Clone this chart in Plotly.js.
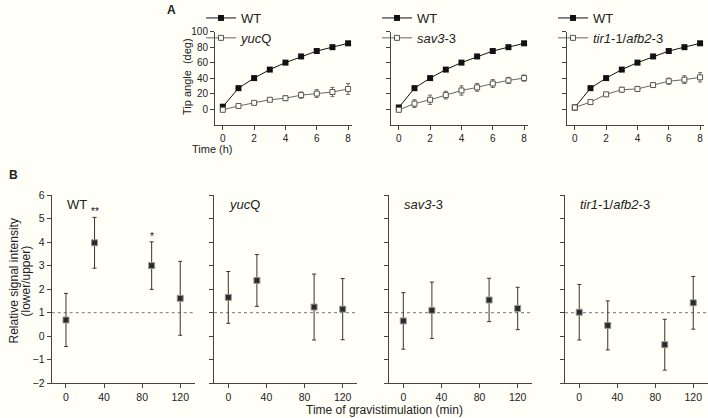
<!DOCTYPE html>
<html>
<head>
<meta charset="utf-8">
<script src="https://cdn.plot.ly/plotly-3.0.1.min.js"></script>
<style>html,body{margin:0;padding:0;background:#fffff8;}#chart{width:708px;height:418px;}</style>
</head>
<body>
<div id="chart"></div>
<script>
// ---------- DATA ----------
const hours = [0, 1, 2, 3, 4, 5, 6, 7, 8];
const hourTicks = [0, 2, 4, 6, 8];
const angleTicks = [0, 20, 40, 60, 80, 100];

const wtA1 = [3, 27, 40, 51, 60, 68, 75, 80, 85];
const yucA = [-1, 4, 8, 12, 14, 18, 20, 22, 26];
const yucAErr = [1, 1, 1, 2, 3, 4, 5, 6, 7];

const wtA2 = [2, 27, 40, 51, 60, 68, 75, 80, 85];
const savA = [-1, 7, 12, 18, 24, 28, 33, 37, 40];
const savAErr = [2, 5, 6, 5, 6, 5, 5, 4, 4];

const wtA3 = [2, 27, 40, 51, 60, 68, 75, 80, 85];
const tirA = [2, 9, 19, 25, 26, 31, 36, 38, 41];
const tirAErr = [1, 2, 2, 3, 3, 3, 4, 5, 6];

const minutes = [0, 30, 90, 120];
const minuteTicks = [0, 40, 80, 120];
const ratioTicks = [-2, -1, 0, 1, 2, 3, 4, 5, 6];

const wtB = [0.69, 3.97, 3.0, 1.61];
const wtBErr = [1.13, 1.08, 1.01, 1.57];
const wtBStars = ["", "**", "*", ""];
const yucB = [1.65, 2.37, 1.24, 1.15];
const yucBErr = [1.1, 1.1, 1.4, 1.3];
const savB = [0.65, 1.1, 1.54, 1.18];
const savBErr = [1.2, 1.2, 0.92, 0.9];
const tirB = [1.02, 0.46, -0.36, 1.42];
const tirBErr = [1.18, 1.04, 1.08, 1.12];
const baseline = 1;

// ---------- LAYOUT HELPERS ----------
const W = 708, H = 418;
const px = v => v / W;
const py = v => 1 - v / H;
const xd = (a, b) => [a / W, b / W];
const yd = (top, bottom) => [1 - bottom / H, 1 - top / H];
const FONT = 'Liberation Sans, Arial, sans-serif';
const AX = '#444';
const TXT = '#222';

function axis(extra) {
  return Object.assign({
    showline: true, linecolor: AX, linewidth: 1,
    ticks: 'outside', ticklen: 4, tickwidth: 1, tickcolor: AX,
    showgrid: false, zeroline: false, fixedrange: true,
    tickfont: {size: 10, color: TXT, family: FONT}
  }, extra);
}

const traces = [];
function panelA(n, wt, mut, mutErr, mutName, legendName) {
  const xa = n === 1 ? 'x' : 'x' + n;
  const ya = n === 1 ? 'y' : 'y' + n;
  traces.push({
    x: hours, y: wt, type: 'scatter', mode: 'lines+markers', name: 'WT',
    xaxis: xa, yaxis: ya, legend: legendName, cliponaxis: false,
    line: {color: '#111', width: 1},
    marker: {symbol: 'square', size: 6, color: '#111'}
  });
  traces.push({
    x: hours, y: mut, type: 'scatter', mode: 'lines+markers', name: mutName,
    xaxis: xa, yaxis: ya, legend: legendName, cliponaxis: false,
    line: {color: '#666', width: 1},
    marker: {symbol: 'square', size: 5, color: '#fffff8', line: {color: '#555', width: 1}},
    error_y: {type: 'data', array: mutErr, visible: true, color: '#666', thickness: 1, width: 2}
  });
}
panelA(1, wtA1, yucA, yucAErr, '<i>yuc</i>Q', 'legend');
panelA(2, wtA2, savA, savAErr, '<i>sav3</i>-3', 'legend2');
panelA(3, wtA3, tirA, tirAErr, '<i>tir1</i>-1/<i>afb2</i>-3', 'legend3');

function panelB(n, vals, errs) {
  traces.push({
    x: minutes, y: vals, type: 'scatter', mode: 'markers', showlegend: false,
    xaxis: 'x' + n, yaxis: 'y' + n, cliponaxis: false,
    marker: {symbol: 'square', size: 6, color: '#2a2a2a', line: {color: '#999', width: 1}},
    error_y: {type: 'data', array: errs, visible: true, color: '#333', thickness: 1, width: 2}
  });
}
panelB(4, wtB, wtBErr);
panelB(5, yucB, yucBErr);
panelB(6, savB, savBErr);
panelB(7, tirB, tirBErr);

const yA = yd(31.7, 124.5);
const yB = yd(195, 383.3);
const legendBase = {xanchor: 'left', yanchor: 'top', bgcolor: 'rgba(0,0,0,0)', font: {size: 13, family: FONT, color: TXT}, tracegroupgap: 0, itemwidth: 30};
const layout = {
  width: W, height: H,
  margin: {l: 0, r: 0, t: 0, b: 0},
  paper_bgcolor: '#fffff8', plot_bgcolor: 'rgba(0,0,0,0)',
  font: {family: FONT, color: TXT},
  showlegend: true,
  xaxis:  axis({domain: xd(215, 352), range: [-0.5, 8.25], tickvals: hourTicks, anchor: 'y'}),
  yaxis:  axis({domain: yA, range: [-20, 100], tickvals: angleTicks, anchor: 'x'}),
  xaxis2: axis({domain: xd(391, 528), range: [-0.5, 8.25], tickvals: hourTicks, anchor: 'y2'}),
  yaxis2: axis({domain: yA, range: [-20, 100], tickvals: angleTicks, showticklabels: false, anchor: 'x2'}),
  xaxis3: axis({domain: xd(567, 704), range: [-0.5, 8.25], tickvals: hourTicks, anchor: 'y3'}),
  yaxis3: axis({domain: yA, range: [-20, 100], tickvals: angleTicks, showticklabels: false, anchor: 'x3'}),
  xaxis4: axis({domain: xd(51.7, 194.5), range: [-15, 135], tickvals: minuteTicks, anchor: 'y4', tickfont: {size: 10.5, color: TXT, family: FONT}}),
  yaxis4: axis({domain: yB, range: [-2, 6], tickvals: ratioTicks, anchor: 'x4', tickfont: {size: 10.5, color: TXT, family: FONT}}),
  xaxis5: axis({domain: xd(214, 357), range: [-15, 135], tickvals: minuteTicks, anchor: 'y5', tickfont: {size: 10.5, color: TXT, family: FONT}}),
  yaxis5: axis({domain: yB, range: [-2, 6], tickvals: ratioTicks, showticklabels: false, anchor: 'x5'}),
  xaxis6: axis({domain: xd(389, 532), range: [-15, 135], tickvals: minuteTicks, anchor: 'y6', tickfont: {size: 10.5, color: TXT, family: FONT}}),
  yaxis6: axis({domain: yB, range: [-2, 6], tickvals: ratioTicks, showticklabels: false, anchor: 'x6'}),
  xaxis7: axis({domain: xd(565, 707.5), range: [-15, 135], tickvals: minuteTicks, anchor: 'y7', tickfont: {size: 10.5, color: TXT, family: FONT}}),
  yaxis7: axis({domain: yB, range: [-2, 6], tickvals: ratioTicks, showticklabels: false, anchor: 'x7'}),
  legend:  Object.assign({x: px(201), y: py(3)}, legendBase),
  legend2: Object.assign({x: px(377), y: py(3)}, legendBase),
  legend3: Object.assign({x: px(553), y: py(3)}, legendBase),
  shapes: [4, 5, 6, 7].map(n => ({
    type: 'line', xref: 'x' + n + ' domain', yref: 'y' + n, x0: 0, x1: 1, y0: baseline, y1: baseline,
    line: {color: '#777', width: 1, dash: 'dot'}, layer: 'below'
  })),
  annotations: []
};

const ann = layout.annotations;
const paperText = (text, x, y, size, extra) => Object.assign({text, xref: 'paper', yref: 'paper', x: px(x), y: py(y), xanchor: 'center', yanchor: 'middle', showarrow: false, font: {size, family: FONT, color: TXT}}, extra || {});
ann.push(paperText('<b>A</b>', 165, 10, 12, {xanchor: 'left'}));
ann.push(paperText('<b>B</b>', 7, 175, 12, {xanchor: 'left'}));
ann.push(paperText('Tip angle\u00a0\u00a0(deg)', 187, 77, 11, {textangle: -90}));
ann.push(paperText('Time (h)', 213, 149, 11));
ann.push(paperText('Relative signal intensity', 13.5, 281, 12, {textangle: -90}));
ann.push(paperText('(lower/upper)', 25.5, 281, 12, {textangle: -90}));
ann.push(paperText('Time of gravistimulation (min)', 385, 410, 12));

const panelNames = ['WT', '<i>yuc</i>Q', '<i>sav3</i>-3', '<i>tir1</i>-1/<i>afb2</i>-3'];
[4, 5, 6, 7].forEach((n, i) => {
  ann.push({text: panelNames[i], xref: 'x' + n + ' domain', yref: 'paper', x: 0.09, y: py(204), xanchor: 'left', yanchor: 'middle', showarrow: false, font: {size: 13, family: FONT, color: TXT}});
});
wtBStars.forEach((s, i) => {
  if (!s) return;
  ann.push({text: s, xref: 'x4', yref: 'y4', x: minutes[i], y: wtB[i] + wtBErr[i], xanchor: 'center', yanchor: 'bottom', yshift: -2, showarrow: false, font: {size: 10, family: FONT, color: '#111'}});
});

Plotly.newPlot('chart', traces, layout, {staticPlot: true, displayModeBar: false});
</script>
</body>
</html>
